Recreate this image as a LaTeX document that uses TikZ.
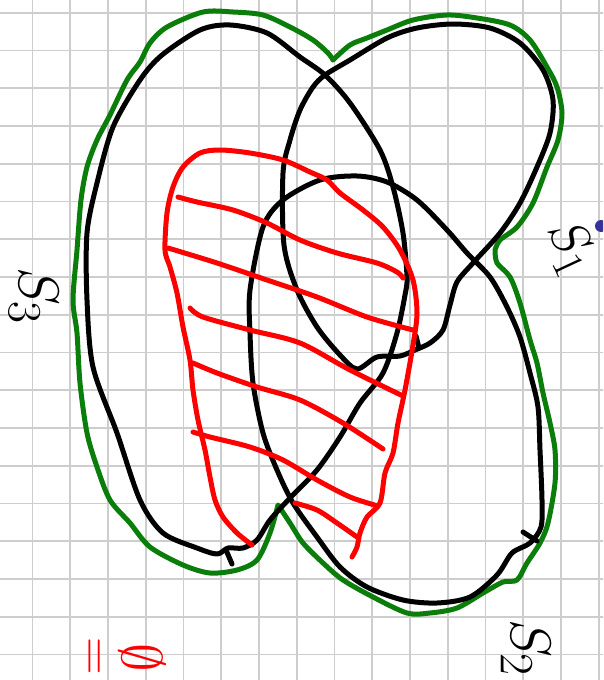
\documentclass[tikz,border=0pt]{standalone}
\usepackage{amsmath,amssymb}
\definecolor{gridgray}{HTML}{CDCDCD}
\definecolor{inkblack}{HTML}{000000}
\definecolor{inkgreen}{HTML}{0A7D0A}
\definecolor{inkred}{HTML}{FF0000}
\definecolor{inkblue}{HTML}{33339A}
\newcommand{\bigmark}[2]{\scalebox{#1}{#2}}

\begin{document}
\begin{tikzpicture}[x=1pt, y=-1pt, line cap=round, line join=round,
  gridln/.style={gridgray, line width=1.6pt},
  setloop/.style={inkblack, line width=5pt},
  unionline/.style={inkgreen, line width=5pt},
  hatchline/.style={inkred, line width=5pt},
  setlabel/.style={text=inkblack, font=\Huge, inner sep=0pt},
  redlabel/.style={text=inkred, font=\Huge, inner sep=0pt}]

% Paper
\useasboundingbox (0,0) rectangle (603,680);
\clip (0,0) rectangle (603,680);
\fill[white] (0,0) rectangle (603,680);

% Grid of the notebook
\foreach \i in {1,...,16}
  \draw[gridln] ({-5.25+37.75*\i},0) -- ({-5.25+37.75*\i},680);
\foreach \j in {0,...,17}
  \draw[gridln] (0,{12.7+37.75*\j}) -- (603,{12.7+37.75*\j});

% Union S1 u S2 u S3 (green, with three cusps)
\draw[unionline]
  plot[smooth] coordinates {(333,60) (328,53) (313,40) (290,27) (263,15) (233,12)
    (203,12) (167,27) (150,43) (140,62) (127,80) (110,115) (97,140) (87,167)
    (81,200) (77,250) (73,300) (77,333) (80,383) (87,433) (97,467) (110,500)
    (130,523) (150,547) (183,565) (210,573) (237,570) (257,560) (270,533) (278,505)}
  -- plot[smooth] coordinates {(278,505) (290,523) (303,543) (323,563) (343,580)
    (373,597) (407,613) (430,613) (457,608) (483,593) (503,582) (517,580) (527,563)
    (540,543) (548,523) (555,483) (555,450) (550,423) (543,393) (537,363) (530,340)
    (520,303) (510,277) (497,263) (495,250)}
  -- plot[smooth] coordinates {(495,250) (500,240) (517,227) (533,203) (547,167)
    (558,140) (562,113) (557,87) (547,67) (530,40) (510,25) (477,18) (447,15)
    (413,20) (387,30) (367,38) (350,45) (333,60)};

% S3
\draw[setloop] plot[smooth cycle] coordinates {(200,30) (230,25) (267,33) (300,57)
  (325,75) (350,103) (380,150) (393,187) (403,233) (407,277) (405,295) (397,333)
  (383,373) (360,403) (340,437) (317,470) (290,498) (270,520) (257,540) (243,548)
  (228,548) (217,554) (197,548) (163,533) (140,500) (117,433) (93,367) (87,300)
  (87,233) (97,183) (113,127) (140,80) (162,55)};
\draw[setloop] (226,550) -- (232,564);

% S1
\draw[setloop] plot[smooth cycle] coordinates {(325,75) (350,60) (387,38) (417,28)
  (453,24) (490,28) (520,43) (543,70) (553,100) (550,133) (537,167) (520,203)
  (500,233) (473,263) (457,282) (450,305) (443,330) (430,343) (415,350) (400,356)
  (377,357) (357,369) (340,355) (317,327) (297,290) (284,245) (283,173) (290,140)
  (300,110) (313,87)};
\draw[setloop] (416,336) -- (419,348);

% S2
\draw[setloop] plot[smooth cycle] coordinates {(250,290) (263,227) (283,200) (320,180)
  (357,176) (387,182) (417,200) (447,230) (467,253) (490,277) (507,307) (520,337)
  (530,373) (538,407) (540,450) (542,500) (541,527) (530,543) (512,553) (497,575)
  (470,597) (437,603) (403,600) (367,587) (340,567) (317,537) (293,503) (277,470)
  (263,433) (253,383) (250,333)};
\draw[setloop] (523,532) -- (537,541);

% Shaded region (red outline and hatching)
\draw[hatchline] plot[smooth] coordinates {(252,545) (237,533) (223,517) (215,500)
  (210,477) (205,450) (198,420) (193,390) (190,360) (183,327) (177,293) (170,267)
  (165,250) (167,213) (173,187) (183,167) (200,153) (220,150) (250,153) (283,160)
  (310,172) (327,180) (340,193) (363,210) (383,227) (400,250) (413,280) (417,313)
  (413,345) (405,390) (398,423) (393,453) (385,473) (380,503) (367,517) (360,533)
  (357,547) (352,557)};
\draw[hatchline] plot[smooth] coordinates {(178,197) (197,202) (233,210) (267,223)
  (300,240) (337,253) (377,263) (397,272) (403,278)};
\draw[hatchline] plot[smooth] coordinates {(168,248) (217,263) (267,280) (317,297)
  (367,317) (413,330)};
\draw[hatchline] plot[smooth] coordinates {(190,308) (203,317) (250,330) (300,343)
  (350,370) (403,396)};
\draw[hatchline] plot[smooth] coordinates {(193,363) (217,373) (257,387) (300,400)
  (343,423) (383,449)};
\draw[hatchline] plot[smooth] coordinates {(193,432) (210,437) (250,447) (283,460)
  (317,480) (350,497) (378,506)};
\draw[hatchline] plot[smooth] coordinates {(295,503) (317,510) (337,523) (357,537)};

% Labels
\node[setlabel, rotate=-90] (lblthree) at (34,296) {\bigmark{2.3}{$S_3$}};
\node[setlabel, rotate=-65] (lblone) at (570,248) {\bigmark{2.1}{$S_1$}};
\node[setlabel, rotate=-90] (lbltwo) at (526,648) {\bigmark{2.3}{$S_2$}};
\node[redlabel, rotate=-90] (lbleq) at (91,656) {\bigmark{2.1}{$=$}};
\node[redlabel, rotate=-90] (lblempty) at (142,658) {\bigmark{2.3}{$\emptyset$}};

% Pen mark at the edge
\fill[inkblue] (601,226) circle (6);

\end{tikzpicture}
\end{document}
